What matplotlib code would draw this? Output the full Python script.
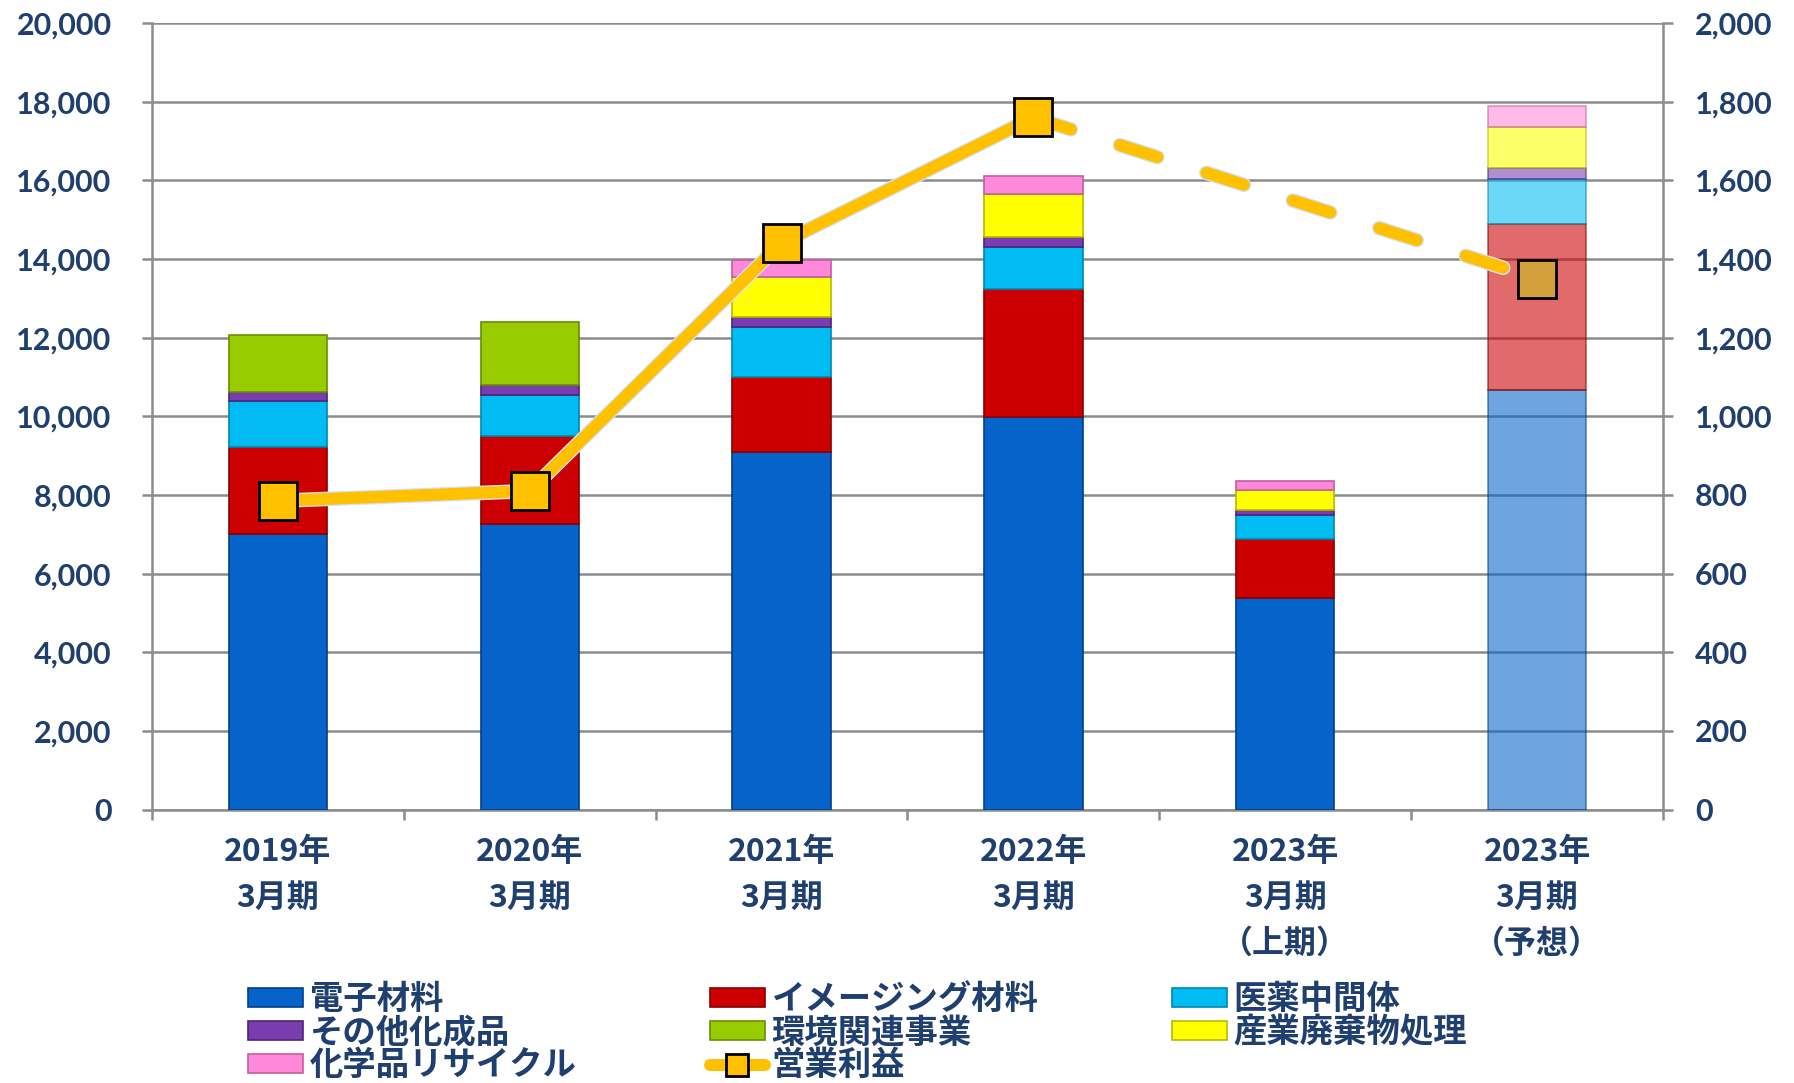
import numpy as np
import matplotlib.pyplot as plt
import matplotlib.patheffects as pe
from matplotlib.lines import Line2D
from matplotlib.ticker import FuncFormatter, FixedLocator

plt.rcParams['font.family'] = ['Noto Sans CJK JP', 'DejaVu Sans']

# data (百万円)
periods = ['2019年\n3月期', '2020年\n3月期', '2021年\n3月期', '2022年\n3月期',
           '2023年\n3月期\n（上期）', '2023年\n3月期\n（予想）']
segments = ['電子材料', 'イメージング材料', '医薬中間体', 'その他化成品',
            '環境関連事業', '産業廃棄物処理', '化学品リサイクル']
electronic = [7000, 7270, 9090, 9980, 5380, 10680]
imaging = [2220, 2220, 1910, 3260, 1510, 4220]
pharma = [1170, 1040, 1270, 1060, 590, 1140]
other_chem = [230, 260, 250, 270, 150, 280]
environment = [1440, 1600, 0, 0, 0, 0]
waste = [0, 0, 1020, 1090, 500, 1030]
recycle = [0, 0, 440, 440, 220, 530]
op_profit = [785, 810, 1441, 1760, np.nan, 1350]

seg_values = [electronic, imaging, pharma, other_chem, environment, waste, recycle]
seg_colors = ['#0563C9', '#CC0000', '#00BCF2', '#7A3DB0', '#99CC00', '#FFFF00', '#FF88DA']
seg_edges = ['#03408A', '#8A0000', '#0088B0', '#4E2476', '#6A8F00', '#B8B800', '#C0609F']
text_color = '#1F3F6E'
gold = '#FFC000'

fig = plt.figure(figsize=(17.94, 10.83), dpi=100)
ax = fig.add_axes([0.0847, 0.2525, 0.8423, 0.7262])

x = np.arange(len(periods))
bw = 0.39
bottom = np.zeros(len(periods))
handles = {}
for name, vals, col, ec in zip(segments, seg_values, seg_colors, seg_edges):
    vals = np.array(vals, dtype=float)
    for i in range(len(periods)):
        if vals[i] == 0:
            continue
        a = 0.58 if i == 5 else 1.0
        ax.bar(x[i], vals[i], bw, bottom=bottom[i], color=col, edgecolor=ec,
               linewidth=1.2, alpha=a, zorder=3)
    handles[name] = plt.Rectangle((0, 0), 1, 1, facecolor=col, edgecolor=ec, linewidth=1.2)
    bottom += vals

ax.set_xlim(-0.5, 5.5)
ax.set_ylim(0, 20000)
ax.set_yticks(np.arange(0, 20001, 2000))
ax.yaxis.set_major_formatter(FuncFormatter(lambda v, p: f'{int(v):,}'))
ax.grid(axis='y', color='#8C8C8C', linewidth=1.8, zorder=0)
ax.set_axisbelow(True)

ax.set_xticks(x)
ax.set_xticklabels(periods, fontsize=23, fontweight='bold', color=text_color,
                   linespacing=1.55, va='top')
ax.xaxis.set_minor_locator(FixedLocator(np.arange(-0.5, 5.6, 1)))
ax.tick_params(axis='x', which='major', length=0, pad=19)
ax.tick_params(axis='x', which='minor', length=7, width=1.8, color='#8C8C8C', direction='out')
ax.tick_params(axis='y', length=7, width=1.8, color='#8C8C8C', pad=22)
for lab in ax.get_yticklabels():
    lab.set_fontfamily('Lato')
    lab.set_fontweight('bold')
    lab.set_fontsize(22)
    lab.set_color(text_color)

for s in ['left', 'right', 'bottom']:
    ax.spines[s].set_color('#8C8C8C')
    ax.spines[s].set_linewidth(1.8)
ax.spines['top'].set_visible(False)

# operating profit on right axis
ax2 = ax.twinx()
ax2.set_ylim(0, 2000)
ax2.set_yticks(np.arange(0, 2001, 200))
ax2.yaxis.set_major_formatter(FuncFormatter(lambda v, p: f'{int(v):,}'))
ax2.tick_params(axis='y', length=7, width=1.8, color='#8C8C8C', pad=16)
for lab in ax2.get_yticklabels():
    lab.set_fontfamily('Lato')
    lab.set_fontweight('bold')
    lab.set_fontsize(22)
    lab.set_color(text_color)
for s in ['left', 'right', 'bottom', 'top']:
    ax2.spines[s].set_visible(False)

glow = [pe.Stroke(linewidth=10.5, foreground='#CFE3F5'), pe.Normal()]
ax2.plot(x[:4], op_profit[:4], color=gold, linewidth=8.6, solid_capstyle='round',
         solid_joinstyle='round', zorder=4, path_effects=glow)
ax2.plot([x[3], x[5]], [op_profit[3], op_profit[5]], color=gold, linewidth=8.6,
         dashes=(3.3, 4.3), dash_capstyle='round', zorder=4, path_effects=glow)
ax2.plot(x[:4], op_profit[:4], linestyle='none', marker='s', markersize=27,
         markerfacecolor=gold, markeredgecolor='black', markeredgewidth=2, zorder=5)
ax2.plot([x[5]], [op_profit[5]], linestyle='none', marker='s', markersize=27,
         markerfacecolor='#D4A03E', markeredgecolor='black', markeredgewidth=2, zorder=5)

line_handle = Line2D([], [], color=gold, linewidth=8.6, solid_capstyle='round',
                     marker='s', markersize=16, markerfacecolor=gold,
                     markeredgecolor='black', markeredgewidth=2)

order = ['電子材料', 'その他化成品', '化学品リサイクル',
         'イメージング材料', '環境関連事業', '営業利益',
         '医薬中間体', '産業廃棄物処理']
leg_handles = [line_handle if n == '営業利益' else handles[n] for n in order]
fig.legend(leg_handles, order, loc='upper left', bbox_to_anchor=(0.1382, 0.092),
           ncol=3, frameon=False, borderaxespad=0, borderpad=0,
           prop={'size': 24, 'weight': 'bold'}, labelcolor=text_color,
           handlelength=1.65, handleheight=0.5, handletextpad=0.2,
           labelspacing=0.0, columnspacing=4.0)

fig.savefig('out.png', dpi=100)
